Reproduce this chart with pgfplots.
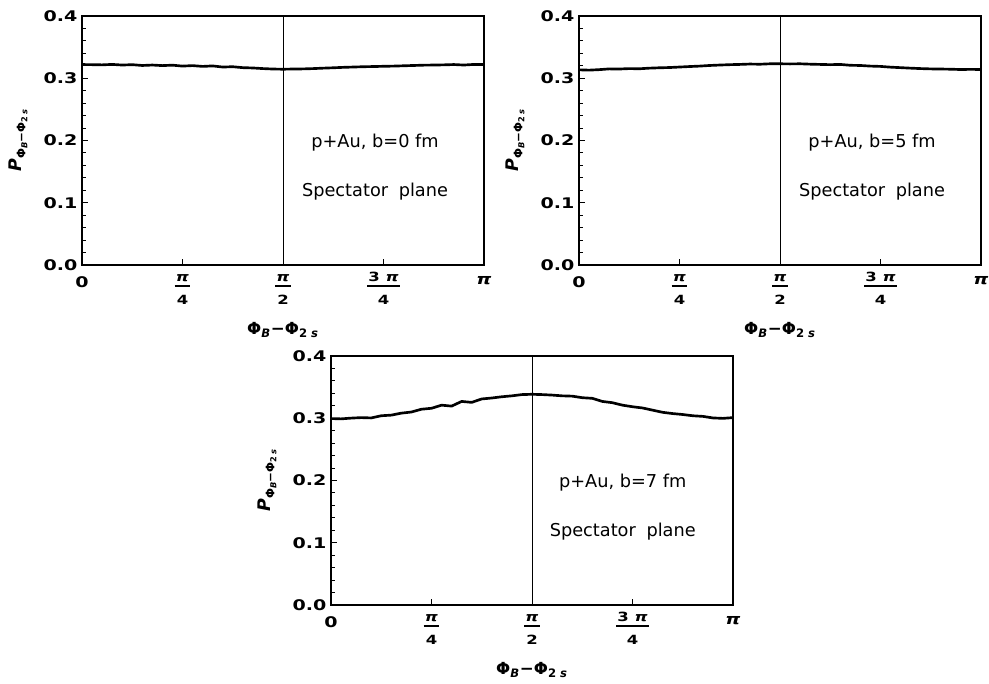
\documentclass[border=0pt]{standalone}
\usepackage{fontspec}
\setmainfont{DejaVu Sans}
\newfontfamily\tickfont{DejaVu Sans}[FakeStretch=1.3]
\usepackage{pgfplots}
\usepackage{pgfplotstable}
\pgfplotsset{compat=1.18}

\newcommand{\tk}{\tickfont\bfseries\fontsize{11}{13}\selectfont}
\newcommand{\fr}[2]{\raisebox{0pt}[3.5pt][\depth]{\tickfont\bfseries\fontsize{9.5}{11}\selectfont\setlength{\arrayrulewidth}{1.1pt}\setlength{\tabcolsep}{1pt}\begin{tabular}[t]{c}#1\\\hline\rule{0pt}{13pt}#2\end{tabular}}}
\newcommand{\pii}{{\itshape π}}
\newcommand{\xlab}{{\bfseries\fontsize{12.5}{14}\selectfont Φ\textsubscript{\itshape B}−Φ\textsubscript{2 \itshape s}}}
\newcommand{\ylab}{{\bfseries{\fontsize{13}{14}\selectfont\itshape P}\raisebox{-3pt}{\fontsize{8.8}{10}\selectfont Φ\raisebox{-1.5pt}{\fontsize{6.2}{7}\selectfont\itshape B}−Φ\raisebox{-1.5pt}{\fontsize{6.2}{7}\selectfont 2 \itshape s}}}}

\pgfplotstableread{
x      a      b      c
0.0000 0.3220 0.3135 0.2995
0.0785 0.3218 0.3130 0.2990
0.1571 0.3215 0.3138 0.3002
0.2356 0.3222 0.3150 0.3010
0.3142 0.3212 0.3148 0.3005
0.3927 0.3218 0.3155 0.3040
0.4712 0.3205 0.3152 0.3050
0.5498 0.3212 0.3162 0.3082
0.6283 0.3203 0.3168 0.3100
0.7069 0.3210 0.3172 0.3145
0.7854 0.3195 0.3180 0.3160
0.8639 0.3203 0.3188 0.3210
0.9425 0.3190 0.3195 0.3195
1.0210 0.3198 0.3205 0.3270
1.0996 0.3180 0.3212 0.3255
1.1781 0.3185 0.3218 0.3310
1.2566 0.3170 0.3222 0.3325
1.3352 0.3165 0.3228 0.3345
1.4137 0.3155 0.3225 0.3360
1.4923 0.3148 0.3232 0.3380
1.5708 0.3145 0.3232 0.3385
1.6493 0.3148 0.3230 0.3380
1.7279 0.3150 0.3232 0.3372
1.8064 0.3155 0.3226 0.3360
1.8850 0.3162 0.3222 0.3355
1.9635 0.3168 0.3218 0.3330
2.0420 0.3175 0.3222 0.3320
2.1206 0.3180 0.3208 0.3270
2.1991 0.3185 0.3205 0.3250
2.2777 0.3188 0.3195 0.3210
2.3562 0.3192 0.3190 0.3185
2.4347 0.3195 0.3178 0.3165
2.5133 0.3200 0.3170 0.3130
2.5918 0.3205 0.3162 0.3095
2.6704 0.3210 0.3155 0.3075
2.7489 0.3212 0.3150 0.3060
2.8274 0.3215 0.3148 0.3040
2.9060 0.3220 0.3145 0.3030
2.9845 0.3212 0.3140 0.3005
3.0631 0.3222 0.3143 0.2998
3.1416 0.3220 0.3140 0.3010
}\datatable

\pgfplotsset{panel/.style={
  width=301.5pt, height=186.75pt, scale only axis,
  anchor=south west,
  xmin=0, xmax=3.1416, ymin=0, ymax=0.4,
  xtick={0,0.785398,1.570796,2.356194,3.1416},
  xticklabels={{\tk 0},{\fr{\pii}{4}},{\fr{\pii}{2}},{\fr{3 \pii}{4}},{\tk\pii}},
  xticklabel style={yshift=-5pt},
  ytick={0,0.1,0.2,0.3,0.4},
  yticklabels={0.0,0.1,0.2,0.3,0.4},
  yticklabel style={font=\tk},
  minor y tick num=4,
  tick align=inside,
  xtick pos=left, ytick pos=left,
  major tick length=4.5pt, minor tick length=3pt,
  axis line style={line width=0.8pt},
  every tick/.style={black, line width=0.7pt},
  xlabel={\xlab}, ylabel={\ylab},
  xlabel style={at={(axis description cs:0.5,-0.261)}, anchor=center},
  ylabel style={at={(axis description cs:-0.159,0.5)}, anchor=center},
}}

\begin{document}
\begin{tikzpicture}
\useasboundingbox (0,0) rectangle (741.75pt,513pt);
\begin{axis}[panel, at={(61.5pt,314.25pt)}]
\addplot[black, line width=0.6pt] coordinates {(1.5708,0) (1.5708,0.4)};
\addplot[black, line width=2pt] table[x=x,y=a] {\datatable};
\node[anchor=base, font=\fontsize{13.3}{15}\selectfont] at (axis cs:2.29,0.1884) {p+Au, b=0 fm};
\node[anchor=base, font=\fontsize{13.3}{15}\selectfont] at (axis cs:2.29,0.1097) {Spectator\hspace{0.6em}plane};
\end{axis}
\begin{axis}[panel, at={(434.25pt,314.25pt)}]
\addplot[black, line width=0.6pt] coordinates {(1.5708,0) (1.5708,0.4)};
\addplot[black, line width=2pt] table[x=x,y=b] {\datatable};
\node[anchor=base, font=\fontsize{13.3}{15}\selectfont] at (axis cs:2.29,0.1884) {p+Au, b=5 fm};
\node[anchor=base, font=\fontsize{13.3}{15}\selectfont] at (axis cs:2.29,0.1097) {Spectator\hspace{0.6em}plane};
\end{axis}
\begin{axis}[panel, at={(248.25pt,59.25pt)}]
\addplot[black, line width=0.6pt] coordinates {(1.5708,0) (1.5708,0.4)};
\addplot[black, line width=2pt] table[x=x,y=c] {\datatable};
\node[anchor=base, font=\fontsize{13.3}{15}\selectfont] at (axis cs:2.28,0.1884) {p+Au, b=7 fm};
\node[anchor=base, font=\fontsize{13.3}{15}\selectfont] at (axis cs:2.28,0.1097) {Spectator\hspace{0.6em}plane};
\end{axis}
\end{tikzpicture}
\end{document}
